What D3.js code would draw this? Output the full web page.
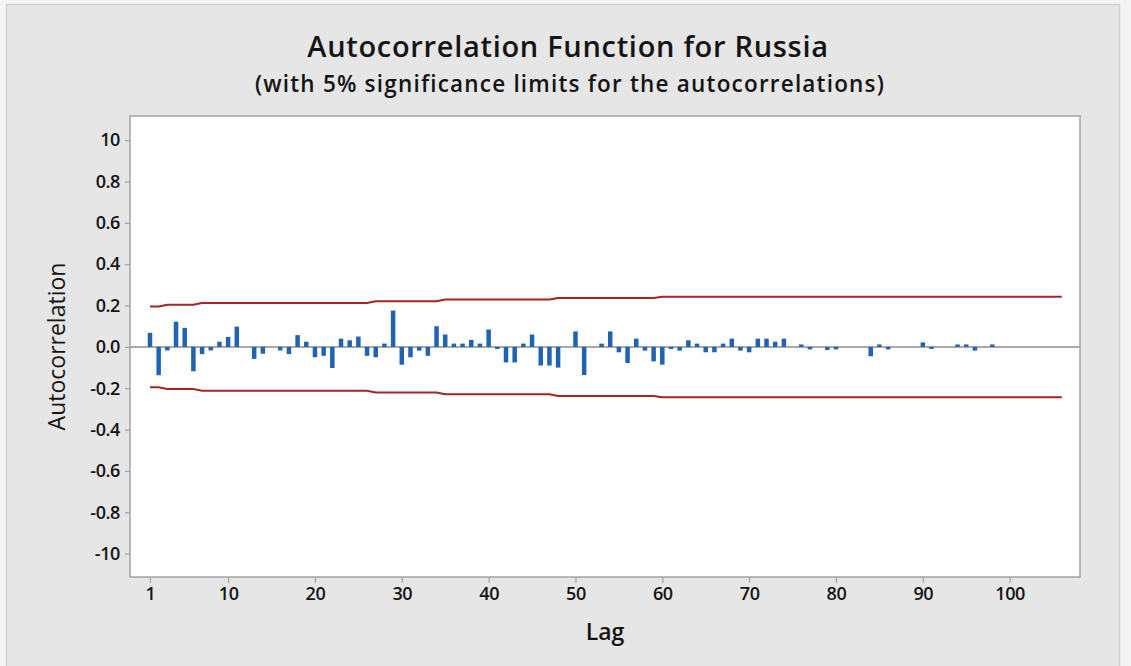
<!DOCTYPE html>
<html>
<head>
<meta charset="utf-8">
<script src="https://cdn.jsdelivr.net/npm/d3@7"></script>
<style>
  html, body { margin: 0; padding: 0; background: #f4f4f4; }
  svg { display: block; }
  text { font-family: "Open Sans", "Noto Sans", sans-serif; fill: #141414; }
</style>
</head>
<body>
<svg id="chart" width="1131" height="666"></svg>
<script>
// Sample autocorrelations, lag 1 .. 106
const acf = [
   0.068, -0.137, -0.017,  0.122,  0.092, -0.118, -0.035, -0.017,  0.025,  0.048,
   0.098,  0.000, -0.058, -0.033,  0.000, -0.017, -0.035,  0.057,  0.025, -0.050,
  -0.043, -0.102,  0.040,  0.032,  0.050, -0.043, -0.050,  0.016,  0.176, -0.086,
  -0.050, -0.018, -0.043,  0.100,  0.060,  0.016,  0.016,  0.034,  0.016,  0.084,
  -0.010, -0.075, -0.075,  0.016,  0.060, -0.090, -0.090, -0.100,  0.000,  0.075,
  -0.136,  0.000,  0.016,  0.075, -0.026, -0.078,  0.040, -0.018, -0.070, -0.086,
  -0.010, -0.018,  0.032,  0.016, -0.026, -0.026,  0.016,  0.040, -0.018, -0.026,
   0.040,  0.040,  0.025,  0.040,  0.000,  0.012, -0.012,  0.000, -0.015, -0.012,
   0.000,  0.000,  0.000, -0.045,  0.012, -0.012,  0.000,  0.000,  0.000,  0.022,
  -0.010,  0.000,  0.000,  0.012,  0.012, -0.018,  0.000,  0.012,  0.000,  0.000,
   0.000,  0.000,  0.000,  0.000,  0.000,  0.000
];
const lags = acf.map((_, i) => i + 1);

// 5% significance limit (±), as [first lag of the run, limit]
const limitRuns = [[1, 0.195], [3, 0.204], [7, 0.212], [27, 0.221], [35, 0.229], [48, 0.237], [60, 0.243]];

const xTicks = [1, 10, 20, 30, 40, 50, 60, 70, 80, 90, 100];
const yTicks = [1, 0.8, 0.6, 0.4, 0.2, 0, -0.2, -0.4, -0.6, -0.8, -1];
const yTickLabels = ["10", "0.8", "0.6", "0.4", "0.2", "0.0", "-0.2", "-0.4", "-0.6", "-0.8", "-10"];

const titleText = "Autocorrelation Function for Russia";
const subtitleText = "(with 5% significance limits for the autocorrelations)";
const xLabel = "Lag";
const yLabel = "Autocorrelation";

const svg = d3.select("#chart");
const W = 1131, H = 666;
const plot = { left: 130, top: 116, right: 1080, bottom: 577 };

// outer panel
svg.append("rect")
  .attr("x", 6.5).attr("y", 4.5).attr("width", 1113).attr("height", H + 10)
  .attr("fill", "#e6e6e6").attr("stroke", "#d2d2d2").attr("stroke-width", 1.5);

// data region
svg.append("rect")
  .attr("x", plot.left).attr("y", plot.top)
  .attr("width", plot.right - plot.left).attr("height", plot.bottom - plot.top)
  .attr("fill", "#ffffff").attr("stroke", "#a3a3a3").attr("stroke-width", 1.5);

const x = d3.scaleLinear().domain([-1.3, 108.1]).range([plot.left, plot.right]);
const y = d3.scaleLinear().domain([-1.113, 1.117]).range([plot.bottom, plot.top]);

// axes
const yAxis = d3.axisLeft(y).tickValues(yTicks)
  .tickFormat((d, i) => yTickLabels[i]).tickSize(5).tickPadding(5);
const gy = svg.append("g").attr("transform", `translate(${plot.left},0)`).call(yAxis);
gy.select(".domain").remove();
gy.selectAll(".tick line").attr("stroke", "#a3a3a3").attr("stroke-width", 1.2);
gy.selectAll(".tick text").attr("font-size", 18).attr("font-weight", 600).attr("fill", "#1a1a1a")
  .attr("letter-spacing", -0.4)
  .style("font-family", '"Open Sans", sans-serif');

const xAxis = d3.axisBottom(x).tickValues(xTicks).tickFormat(d => String(d))
  .tickSize(6).tickPadding(4);
const gx = svg.append("g").attr("transform", `translate(0,${plot.bottom})`).call(xAxis);
gx.select(".domain").remove();
gx.selectAll(".tick line").attr("stroke", "#a3a3a3").attr("stroke-width", 1.2);
gx.selectAll(".tick text").attr("font-size", 18).attr("font-weight", 600).attr("fill", "#1a1a1a")
  .attr("letter-spacing", -0.4)
  .style("font-family", '"Open Sans", sans-serif');

// zero reference line
svg.append("line")
  .attr("x1", plot.left).attr("x2", plot.right)
  .attr("y1", y(0)).attr("y2", y(0))
  .attr("stroke", "#a9a9a9").attr("stroke-width", 2);

// significance limits
const limitAt = lag => {
  let v = limitRuns[0][1];
  for (const [start, val] of limitRuns) if (lag >= start) v = val;
  return v;
};
const limits = lags.map(l => ({ lag: l, v: limitAt(l) }));
const line = d3.line().x(d => x(d.lag));
svg.append("path").datum(limits)
  .attr("d", line.y(d => y(d.v)))
  .attr("fill", "none").attr("stroke", "#a52424").attr("stroke-width", 2);
svg.append("path").datum(limits)
  .attr("d", line.y(d => y(-d.v)))
  .attr("fill", "none").attr("stroke", "#a52424").attr("stroke-width", 2);

// autocorrelation bars
const barW = 4.5;
svg.append("g").selectAll("rect")
  .data(lags.map((l, i) => ({ lag: l, v: acf[i] })).filter(d => d.v !== 0))
  .join("rect")
  .attr("x", d => x(d.lag) - barW / 2)
  .attr("width", barW)
  .attr("y", d => y(Math.max(0, d.v)))
  .attr("height", d => Math.abs(y(d.v) - y(0)))
  .attr("fill", "#1f63b1");

// titles
svg.append("text").attr("x", 568).attr("y", 57)
  .attr("text-anchor", "middle").attr("font-size", 29).attr("font-weight", 600)
  .attr("letter-spacing", 0.7)
  .text(titleText);
svg.append("text").attr("x", 570).attr("y", 92)
  .attr("text-anchor", "middle").attr("font-size", 22.5).attr("font-weight", 600)
  .attr("letter-spacing", 1.2)
  .text(subtitleText);

// axis titles
svg.append("text").attr("x", (plot.left + plot.right) / 2).attr("y", 640)
  .attr("text-anchor", "middle").attr("font-size", 23).attr("font-weight", 600)
  .text(xLabel);
svg.append("text")
  .attr("transform", `translate(65,${(plot.top + plot.bottom) / 2}) rotate(-90)`)
  .attr("text-anchor", "middle").attr("font-size", 23).attr("font-weight", 500)
  .text(yLabel);
</script>
</body>
</html>
